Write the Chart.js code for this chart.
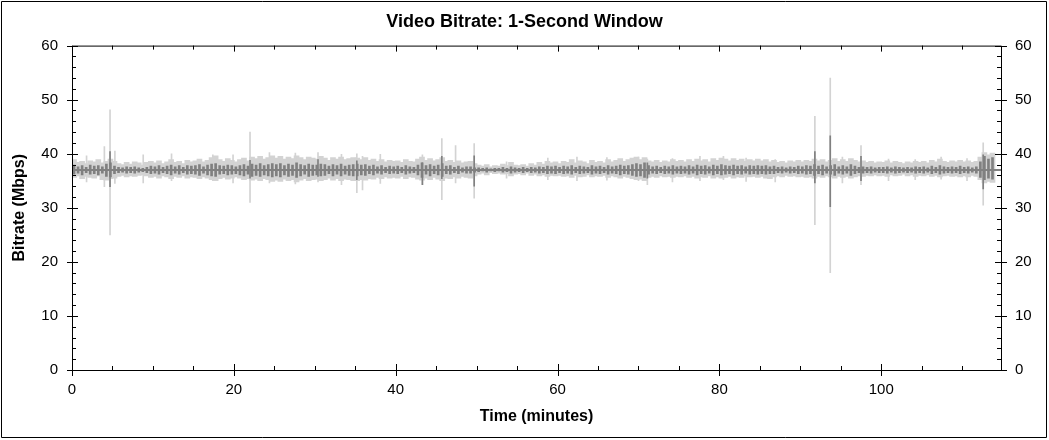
<!DOCTYPE html>
<html>
<head>
<meta charset="utf-8">
<script src="https://cdn.jsdelivr.net/npm/chart.js@4"></script>
<style>
  body { margin: 0; background: #fff; }
  canvas { display: block; }
</style>
</head>
<body>
<canvas id="bitrateChart" width="1049" height="440"></canvas>
<script>
/* Video bitrate, 1-second window: half-minute bins (0.25, 0.75, ... minutes) */
const binWidth = 0.5;

// light grey envelope: highs and lows per bin (Mbps)
const lightHi = [
  38.9, 38.4, 38.6, 38.2, 38.7, 38.5, 38.9, 38.3, 38.6, 39.0,
  38.6, 38.2, 38.0, 38.4, 38.1, 38.5, 38.3, 37.9, 38.4, 38.6,
  38.3, 38.7, 38.2, 38.5, 38.9, 38.4, 38.6, 38.2, 38.8, 38.5,
  38.7, 39.0, 38.5, 38.8, 39.3, 39.6, 38.9, 38.6, 39.1, 38.8,
  38.5, 38.9, 39.2, 38.7, 39.4, 39.1, 39.5, 39.0, 39.3, 39.6,
  39.2, 39.5, 39.0, 39.4, 39.1, 39.6, 39.3, 38.9, 39.4, 39.2,
  39.0, 39.5, 39.2, 38.8, 39.3, 39.0, 39.4, 38.9, 39.1, 39.3,
  39.2, 38.9, 39.3, 38.8, 39.0, 38.6, 38.9, 38.5, 38.8, 38.6,
  38.7, 38.4, 38.9, 38.6, 38.5, 39.0, 39.4, 38.8, 39.1, 38.7,
  38.9, 39.3, 38.6, 38.8, 38.4, 38.7, 38.3, 38.5, 38.6, 38.2,
  37.9, 37.7, 38.0, 37.6, 37.8, 37.7, 38.1, 37.8, 38.4, 37.9,
  37.8, 38.0, 37.7, 38.2, 37.9, 38.4, 38.1, 38.6, 38.3, 38.5,
  38.2, 38.6, 38.4, 38.9, 38.3, 38.7, 38.5, 38.2, 38.8, 38.4,
  38.6, 38.3, 38.9, 38.5, 38.8, 39.1, 38.6, 38.9, 39.2, 39.4,
  38.9, 39.3, 38.7, 38.5, 38.8, 38.4, 38.7, 38.5, 38.9, 38.6,
  38.8, 38.5, 38.9, 38.6, 39.0, 38.7, 38.9, 38.5, 39.1, 38.8,
  39.2, 39.0, 38.7, 39.1, 38.8, 39.0, 38.6, 38.9, 38.7, 39.0,
  38.7, 38.9, 38.5, 38.8, 38.4, 38.6, 38.3, 38.7, 38.5, 38.8,
  38.5, 38.8, 38.6, 39.0, 38.7, 38.9, 38.5, 38.8, 39.1, 38.6,
  38.9, 38.6, 39.1, 38.8, 38.5, 38.7, 38.4, 38.6, 38.3, 38.5,
  38.4, 38.7, 38.3, 38.6, 38.4, 38.2, 38.5, 38.3, 38.6, 38.4,
  38.6, 38.3, 38.8, 38.5, 39.0, 38.6, 38.4, 38.7, 38.5, 38.8,
  38.5, 38.7, 38.4, 38.6, 39.4, 40.2, 39.8, 40.1
];
const lightLo = [
  35.6, 35.9, 35.4, 35.8, 35.6, 35.5, 35.9, 35.2, 35.1, 35.4,
  35.5, 35.8, 36.0, 35.7, 35.9, 35.8, 36.0, 36.1, 35.9, 35.6,
  35.8, 35.5, 35.9, 35.7, 35.4, 35.8, 35.6, 35.9, 35.5, 35.7,
  35.6, 35.4, 35.7, 35.5, 35.2, 35.0, 35.4, 35.6, 35.3, 35.5,
  35.7, 35.5, 35.2, 35.4, 35.1, 35.3, 35.0, 35.4, 35.2, 34.9,
  35.1, 34.9, 35.3, 35.0, 35.2, 34.8, 35.1, 35.4, 35.0, 35.2,
  35.3, 35.0, 35.2, 35.5, 35.1, 35.4, 35.0, 35.3, 35.2, 35.0,
  35.0, 35.2, 35.1, 35.4, 35.3, 35.6, 35.4, 35.7, 35.5, 35.6,
  35.5, 35.8, 35.4, 35.7, 35.6, 35.3, 35.1, 35.5, 35.2, 35.6,
  35.3, 35.0, 35.5, 35.4, 35.7, 35.5, 35.8, 35.6, 35.5, 35.9,
  36.2, 36.4, 36.1, 36.5, 36.3, 36.4, 36.2, 36.3, 35.9, 36.2,
  36.3, 36.1, 36.4, 36.0, 36.2, 35.9, 36.1, 35.8, 36.0, 35.9,
  36.0, 35.8, 35.9, 35.6, 36.0, 35.7, 35.8, 36.1, 35.7, 35.9,
  35.8, 36.0, 35.6, 35.9, 35.7, 35.5, 35.8, 35.6, 35.4, 35.2,
  35.3, 35.0, 35.6, 35.8, 35.6, 35.9, 35.7, 35.8, 35.6, 35.8,
  35.7, 35.9, 35.6, 35.8, 35.5, 35.7, 35.6, 35.9, 35.5, 35.7,
  35.5, 35.6, 35.8, 35.5, 35.7, 35.6, 35.9, 35.7, 35.8, 35.6,
  35.8, 35.5, 35.4, 35.7, 35.9, 35.7, 36.0, 35.8, 35.9, 35.7,
  35.8, 35.6, 35.7, 35.5, 35.8, 35.6, 35.9, 35.7, 35.5, 35.8,
  35.6, 35.8, 35.5, 35.7, 35.9, 35.8, 36.0, 35.9, 36.1, 35.9,
  36.0, 35.8, 36.1, 35.9, 36.0, 36.2, 35.9, 36.1, 35.8, 36.0,
  35.9, 36.1, 35.8, 36.0, 35.7, 35.9, 36.0, 35.8, 35.9, 35.7,
  35.9, 35.7, 36.0, 35.8, 35.2, 34.6, 34.9, 34.7
];

// dark grey core band per bin
const darkHi = [
  37.9, 37.6, 37.8, 37.5, 37.9, 37.7, 37.8, 37.6, 38.1, 38.3,
  37.7, 37.5, 37.4, 37.6, 37.5, 37.6, 37.4, 37.3, 37.5, 37.7,
  37.6, 37.8, 37.5, 37.7, 37.9, 37.6, 37.8, 37.5, 37.8, 37.7,
  37.8, 38.0, 37.6, 37.9, 38.1, 38.2, 37.8, 37.7, 37.9, 37.8,
  37.6, 37.8, 38.0, 37.7, 38.1, 37.9, 38.2, 37.8, 38.0, 38.2,
  38.0, 38.2, 37.8, 38.1, 37.9, 38.3, 38.0, 37.8, 38.1, 37.9,
  37.9, 38.1, 38.0, 37.7, 38.0, 37.8, 38.1, 37.7, 37.9, 38.0,
  38.1, 37.9, 38.0, 37.7, 37.9, 37.6, 37.8, 37.5, 37.7, 37.6,
  37.7, 37.5, 37.8, 37.6, 37.5, 37.9, 38.3, 37.8, 38.0, 37.7,
  37.9, 38.2, 37.7, 37.8, 37.5, 37.7, 37.4, 37.6, 37.6, 37.4,
  37.4, 37.3, 37.4, 37.2, 37.3, 37.3, 37.5, 37.3, 37.6, 37.4,
  37.3, 37.5, 37.3, 37.5, 37.4, 37.6, 37.5, 37.7, 37.6, 37.7,
  37.5, 37.7, 37.6, 37.8, 37.5, 37.7, 37.6, 37.5, 37.8, 37.6,
  37.7, 37.5, 37.8, 37.6, 37.7, 37.9, 37.7, 37.8, 38.0, 38.2,
  38.0, 38.3, 37.8, 37.6, 37.7, 37.5, 37.7, 37.6, 37.8, 37.6,
  37.7, 37.6, 37.8, 37.6, 37.9, 37.7, 37.8, 37.6, 37.9, 37.7,
  38.0, 37.8, 37.7, 37.9, 37.7, 37.8, 37.6, 37.8, 37.7, 37.8,
  37.7, 37.8, 37.6, 37.7, 37.5, 37.6, 37.4, 37.6, 37.5, 37.7,
  37.6, 37.8, 37.7, 38.0, 37.7, 37.9, 37.6, 37.8, 38.0, 37.6,
  37.8, 37.6, 38.0, 37.7, 37.5, 37.6, 37.5, 37.6, 37.4, 37.5,
  37.5, 37.6, 37.4, 37.6, 37.5, 37.4, 37.5, 37.4, 37.6, 37.5,
  37.6, 37.4, 37.7, 37.5, 37.8, 37.6, 37.5, 37.6, 37.5, 37.7,
  37.5, 37.6, 37.4, 37.6, 38.5, 39.5, 39.0, 39.3
];
const darkLo = [
  36.2, 36.4, 36.1, 36.5, 36.2, 36.3, 36.1, 36.4, 35.8, 35.7,
  36.3, 36.5, 36.6, 36.4, 36.5, 36.4, 36.6, 36.7, 36.5, 36.3,
  36.4, 36.2, 36.5, 36.3, 36.1, 36.4, 36.2, 36.5, 36.2, 36.3,
  36.2, 36.0, 36.4, 36.1, 35.9, 35.8, 36.2, 36.3, 36.1, 36.2,
  36.3, 36.1, 35.9, 36.2, 35.8, 36.0, 35.8, 36.1, 35.9, 35.7,
  35.9, 35.7, 36.1, 35.8, 36.0, 35.6, 35.9, 36.2, 35.8, 36.0,
  36.1, 35.9, 36.0, 36.3, 35.9, 36.2, 35.9, 36.2, 36.0, 35.9,
  35.9, 36.1, 36.0, 36.3, 36.1, 36.4, 36.2, 36.5, 36.3, 36.4,
  36.3, 36.5, 36.2, 36.4, 36.5, 36.1, 35.6, 36.2, 35.9, 36.3,
  36.1, 35.8, 36.3, 36.2, 36.5, 36.3, 36.6, 36.4, 36.4, 36.6,
  36.7, 36.8, 36.6, 36.8, 36.7, 36.8, 36.6, 36.7, 36.4, 36.6,
  36.7, 36.5, 36.7, 36.5, 36.6, 36.4, 36.5, 36.3, 36.4, 36.3,
  36.5, 36.3, 36.4, 36.2, 36.5, 36.3, 36.4, 36.5, 36.2, 36.4,
  36.3, 36.5, 36.2, 36.4, 36.3, 36.1, 36.3, 36.2, 36.0, 35.8,
  35.9, 35.6, 36.2, 36.4, 36.3, 36.5, 36.3, 36.4, 36.2, 36.4,
  36.3, 36.4, 36.2, 36.4, 36.1, 36.3, 36.2, 36.4, 36.1, 36.3,
  36.1, 36.2, 36.3, 36.1, 36.3, 36.2, 36.4, 36.2, 36.3, 36.2,
  36.3, 36.2, 36.3, 36.3, 36.5, 36.4, 36.6, 36.4, 36.5, 36.3,
  36.4, 36.2, 36.3, 36.0, 36.3, 36.1, 36.4, 36.2, 36.0, 36.4,
  36.2, 36.4, 36.0, 36.3, 36.5, 36.4, 36.5, 36.4, 36.6, 36.5,
  36.5, 36.4, 36.6, 36.4, 36.5, 36.6, 36.5, 36.6, 36.4, 36.5,
  36.4, 36.6, 36.3, 36.5, 36.2, 36.4, 36.5, 36.4, 36.5, 36.3,
  36.5, 36.4, 36.6, 36.4, 35.6, 35.2, 35.5, 35.3
];

// single-second spikes (minutes, low, high)
const spikeMin = [1.8, 4.0, 4.7, 5.3, 8.8, 12.3, 17.4, 19.9, 22.0, 24.4, 27.6, 30.4, 33.3, 35.2, 35.9, 38.1,
  43.3, 45.7, 47.4, 49.7, 53.7, 58.8, 62.4, 66.1, 70.0, 71.1, 74.2, 77.6, 80.5, 83.3, 86.9,
  91.8, 93.7, 95.2, 97.5, 100.9, 104.2, 107.4, 110.6, 112.6];
const spikeLo = [34.8, 33.9, 25.0, 34.5, 34.6, 35.0, 35.0, 34.6, 31.0, 34.6, 34.4, 34.8, 34.3, 32.8, 33.3, 34.5,
  34.3, 31.5, 34.6, 31.8, 35.5, 35.2, 35.0, 35.1, 35.0, 34.3, 34.8, 35.0, 35.2, 34.9, 34.8,
  26.9, 18.0, 34.6, 34.3, 35.0, 35.2, 35.3, 35.0, 30.5];
const spikeHi = [39.6, 41.3, 48.1, 40.5, 39.8, 40.0, 39.8, 39.8, 44.0, 40.2, 40.1, 40.2, 39.9, 40.0, 39.5, 39.9,
  39.8, 42.8, 41.5, 41.9, 38.5, 39.2, 39.4, 39.3, 39.4, 39.0, 39.1, 39.5, 39.5, 39.2, 38.9,
  46.9, 54.0, 39.4, 41.5, 39.0, 38.9, 39.4, 39.1, 42.0];

const darkSpikeMin = [4.7, 22.0, 30.4, 35.2, 43.3, 45.7, 49.7, 71.1, 91.8, 93.7, 97.5, 112.6];
const darkSpikeLo = [33.9, 35.5, 35.8, 35.2, 34.3, 35.4, 34.0, 35.5, 34.6, 30.2, 35.0, 33.5];
const darkSpikeHi = [40.4, 38.8, 38.9, 38.7, 38.3, 39.5, 39.6, 38.3, 40.4, 43.3, 39.5, 39.8];

// typical level the dark trace sits on
const medianMin = [0, 114.8];
const medianRate = [37.0, 37.0];

const binMinutes = lightHi.map((_, i) => binWidth / 2 + i * binWidth);

function ranges(xs, lo, hi) {
  return xs.map((x, i) => ({ x: x, y: [lo[i], hi[i]] }));
}

const LIGHT = "#d3d3d3";
const DARK = "#808080";

Chart.defaults.font.family = 'Arial, "Liberation Sans", sans-serif';
Chart.defaults.color = "#000";

// box, inward/outward tick marks and outer frame
const frame = {
  id: "frame",
  afterDraw(chart) {
    const ctx = chart.ctx;
    const a = chart.chartArea;
    const xs = chart.scales.x;
    const ys = chart.scales.y;
    ctx.save();
    ctx.strokeStyle = "#000";
    ctx.lineWidth = 1;
    ctx.beginPath();
    ctx.rect(a.left + 0.5, a.top + 0.5, a.right - a.left, a.bottom - a.top);
    ctx.rect(1.5, 1.5, 1045, 436);
    for (let v = 0; v <= 114; v += 5) {
      const px = Math.round(xs.getPixelForValue(v)) + 0.5;
      const major = v % 20 === 0;
      const inL = major ? 6 : 4;
      ctx.moveTo(px, a.bottom + (major ? 6 : 0));
      ctx.lineTo(px, a.bottom - inL);
      ctx.moveTo(px, a.top);
      ctx.lineTo(px, a.top + inL);
    }
    for (let v = 0; v <= 60; v += 2) {
      const py = Math.round(ys.getPixelForValue(v)) + 0.5;
      const major = v % 10 === 0;
      const inL = major ? 6 : 4;
      ctx.moveTo(a.left - (major ? 5 : 0), py);
      ctx.lineTo(a.left + inL, py);
      ctx.moveTo(a.right + (major ? 6 : 0), py);
      ctx.lineTo(a.right - inL, py);
    }
    ctx.stroke();
    ctx.restore();
  }
};

function axisSide(pos, width) {
  return {
    type: "linear",
    position: pos,
    min: 0,
    max: 60,
    ticks: { stepSize: 10, padding: 14, font: { size: 15 } },
    grid: { drawOnChartArea: false, drawTicks: false },
    border: { display: false },
    afterFit(scale) { scale.width = width; }
  };
}

const config = {
  type: "bar",
  data: {
    datasets: [
      { data: ranges(binMinutes, lightLo, lightHi), backgroundColor: LIGHT, barThickness: 5, order: 5 },
      { data: ranges(spikeMin, spikeLo, spikeHi), backgroundColor: LIGHT, barThickness: 1, order: 4 },
      { data: ranges(binMinutes, darkLo, darkHi), backgroundColor: DARK, barThickness: 2, order: 3 },
      { data: ranges(darkSpikeMin, darkSpikeLo, darkSpikeHi), backgroundColor: DARK, barThickness: 1, order: 2 },
      {
        type: "line",
        data: medianMin.map((x, i) => ({ x: x, y: medianRate[i] })),
        borderColor: DARK,
        borderWidth: 2,
        pointRadius: 0,
        order: 1
      }
    ]
  },
  options: {
    responsive: false,
    animation: false,
    datasets: { bar: { grouped: false, borderWidth: 0 } },
    plugins: {
      legend: { display: false },
      tooltip: { enabled: false },
      title: {
        display: true,
        text: "Video Bitrate: 1-Second Window",
        font: { size: 18, weight: "bold" },
        color: "#000",
        padding: { top: 11, bottom: 13 }
      }
    },
    scales: {
      x: {
        type: "linear",
        position: "bottom",
        min: 0,
        max: 114.8,
        offset: false,
        ticks: { stepSize: 20, includeBounds: false, padding: 11, font: { size: 15 }, maxRotation: 0 },
        grid: { offset: false, drawOnChartArea: false, drawTicks: false },
        border: { display: false },
        title: { display: true, text: "Time (minutes)", font: { size: 16, weight: "bold" }, padding: { top: 4, bottom: 14 } },
        afterFit(scale) { scale.height = 70; }
      },
      y: Object.assign(axisSide("left", 72), {
        title: { display: true, text: "Bitrate (Mbps)", font: { size: 16, weight: "bold" }, padding: { top: 10, bottom: 4 } }
      }),
      y2: axisSide("right", 48)
    }
  },
  plugins: [frame]
};

var bitrateChart = new Chart(document.getElementById("bitrateChart"), config);
</script>
</body>
</html>
